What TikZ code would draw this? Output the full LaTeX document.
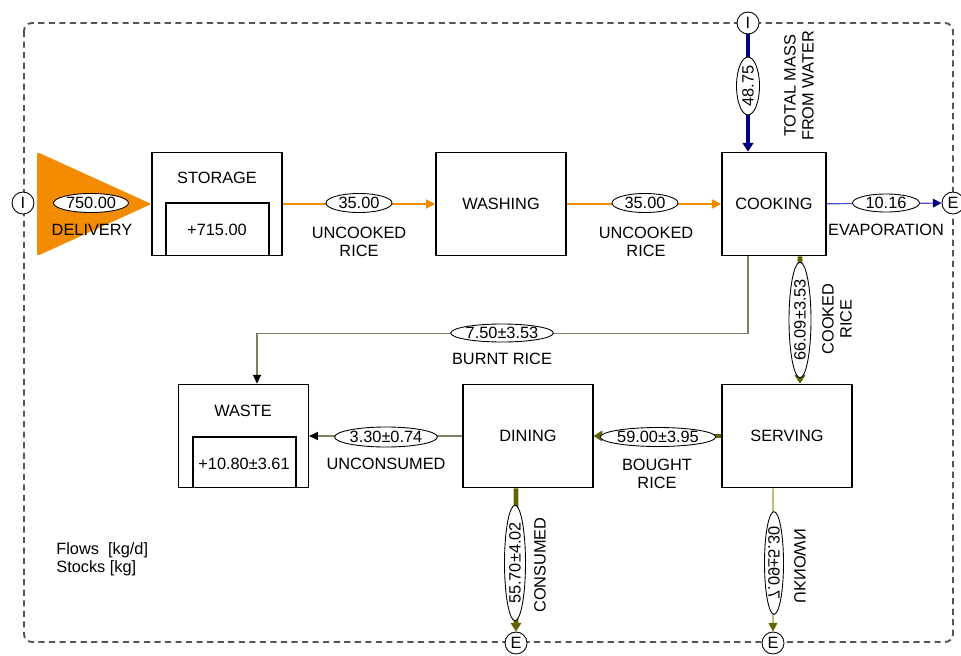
\documentclass[tikz,border=0pt]{standalone}
\usepackage{fontspec}
\setmainfont{Liberation Sans}
\usetikzlibrary{arrows.meta,shapes.geometric,positioning}

% colours of the flows
\definecolor{dlvorange}{RGB}{243,140,0}
\definecolor{waternavy}{RGB}{0,0,125}
\definecolor{evapblue}{RGB}{75,75,205}
\definecolor{riceolive}{RGB}{98,98,0}
\definecolor{thinolive}{RGB}{128,128,96}
\definecolor{unkolive}{RGB}{150,150,60}
\definecolor{bordergray}{RGB}{85,85,85}

\tikzset{
  proc/.style={draw, line width=0.6pt, minimum width=2.6cm, minimum height=2.07cm, inner sep=0pt},
  val/.style={ellipse, draw, line width=0.5pt, fill=white, inner sep=0pt},
  term/.style={circle, draw, line width=0.5pt, fill=white, minimum size=0.44cm, inner sep=0pt},
  txt/.style={align=center, inner sep=0pt},
  rawflow/.style={dlvorange, line width=1.6pt, -{Triangle[length=5.5pt,width=5pt]}},
  riceflow/.style={riceolive, line width=2.8pt, -{Triangle[length=5pt,width=6pt]}},
  thinflow/.style={thinolive, line width=0.8pt, -{Triangle[length=5pt,width=4.5pt,color=black]}},
}

\begin{document}
\begin{tikzpicture}[x=0.02cm, y=-0.02cm, font=\fontsize{9.3}{10.2}\selectfont]
  \useasboundingbox (0,0) rectangle (961,656);

  % system boundary
  \draw[bordergray, line width=1.1pt, dash pattern=on 3.5pt off 2.5pt, rounded corners=0.16cm]
    (24,23) rectangle (953,642);

  % processes
  \node[proc] (storage) at (217,204) {};
  \node[proc] (washing) at (501,204) {WASHING};
  \node[proc, minimum width=2.08cm] (cooking) at (774,204) {COOKING};
  \node[proc] (waste) at (243.5,436) {};
  \node[proc] (dining) at (528,436) {DINING};
  \node[proc] (serving) at (787,436) {SERVING};

  % stocks
  \node[txt] (storagelbl) at (217,178) {STORAGE};
  \draw[line width=0.6pt] (166,256) |- (269,203) -- (269,256);
  \node[txt] (storagestk) at (217,230) {+715.00};
  \node[txt] (wastelbl) at (243,411) {WASTE};
  \draw[line width=0.6pt] (193,488) |- (296,437) -- (296,488);
  \node[txt] (wastestk) at (244,464) {+10.80±3.61};

  % import / export
  \node[term] (inL) at (23,203) {I};
  \node[term] (inT) at (748,23) {I};
  \node[term] (outEvap) at (953,203) {E};
  \node[term] (outCons) at (516,643) {E};
  \node[term] (outUnk) at (773,643) {E};

  % delivery
  \fill[dlvorange, rounded corners=1pt] (37,152) -- (storage.west) -- (37,256) -- cycle;
  \node[val, minimum width=1.5cm, minimum height=0.38cm] (vdel) at (91,203) {750.00};
  \node[txt] (ldel) at (92,230) {DELIVERY};

  % uncooked rice
  \draw[rawflow] (storage) -- (washing);
  \node[val, minimum width=1.32cm, minimum height=0.38cm] (vwash) at (359,203) {35.00};
  \node[txt] (lwash) at (359,242) {UNCOOKED\\RICE};
  \draw[rawflow] (washing) -- (cooking);
  \node[val, minimum width=1.32cm, minimum height=0.38cm] (vcook) at (645,203) {35.00};
  \node[txt] (lcook) at (646,242) {UNCOOKED\\RICE};

  % water
  \draw[waternavy, line width=2.6pt, -{Triangle[length=5pt,width=6pt]}] (inT) -- (inT |- cooking.north);
  \node[val, rotate=90, minimum width=1.1cm, minimum height=0.46cm] (vwater) at (748,86) {48.75};
  \node[txt, rotate=90] (lwater) at (799,86) {TOTAL MASS\\FROM WATER};

  % evaporation
  \draw[evapblue, line width=0.7pt, -{Triangle[length=5pt,width=5pt,color=waternavy]}] (cooking) -- (outEvap);
  \node[val, minimum width=1.34cm, minimum height=0.36cm] (vevap) at (886,203) {10.16};
  \node[txt] (levap) at (886,230) {EVAPORATION};

  % burnt rice
  \draw[thinflow] ([xshift=-0.52cm]cooking.south) -- ++(0,77) -| ([xshift=0.27cm]waste.north);
  \node[val, minimum width=2cm, minimum height=0.36cm] (vburnt) at (502,333) {7.50±3.53};
  \node[txt] (lburnt) at (502,359) {BURNT RICE};

  % cooked rice
  \draw[riceflow] ([xshift=0.52cm]cooking.south) -- ([xshift=0.26cm]serving.north);
  \node[val, rotate=90, minimum width=2.24cm, minimum height=0.44cm] (vcooked) at (800,320) {66.09±3.53};
  \node[txt, rotate=90] (lcooked) at (837,319) {COOKED\\RICE};

  % bought rice
  \draw[riceflow] (serving) -- (dining);
  \node[val, minimum width=2.18cm, minimum height=0.38cm] (vbought) at (658,437) {59.00±3.95};
  \node[txt] (lbought) at (657,474) {BOUGHT\\RICE};

  % unconsumed
  \draw[thinflow] (dining) -- (waste);
  \node[val, minimum width=2.04cm, minimum height=0.4cm] (vuncons) at (386,437) {3.30±0.74};
  \node[txt] (luncons) at (386,464) {UNCONSUMED};

  % consumed
  \draw[riceflow] ([xshift=-0.24cm]dining.south) -- (outCons);
  \node[val, rotate=90, minimum width=2.16cm, minimum height=0.42cm] (vcons) at (515,563) {55.70±4.02};
  \node[txt, rotate=90] (lcons) at (540,565) {CONSUMED};

  % unknown
  \draw[unkolive, line width=0.8pt, -{Triangle[length=5pt,width=5pt,color=riceolive]}]
    ([xshift=-0.28cm]serving.south) -- (outUnk);
  \node[val, rotate=90, yscale=-1, minimum width=2.02cm, minimum height=0.38cm] (vunk) at (774,563) {7.09±5.30};
  \node[txt, rotate=90, yscale=-1] (lunk) at (800,566) {UKNOWN};

  % units
  \node[txt, align=left, anchor=west] (units) at (56,559) {Flows~~[kg/d]\\Stocks [kg]};
\end{tikzpicture}
\end{document}
